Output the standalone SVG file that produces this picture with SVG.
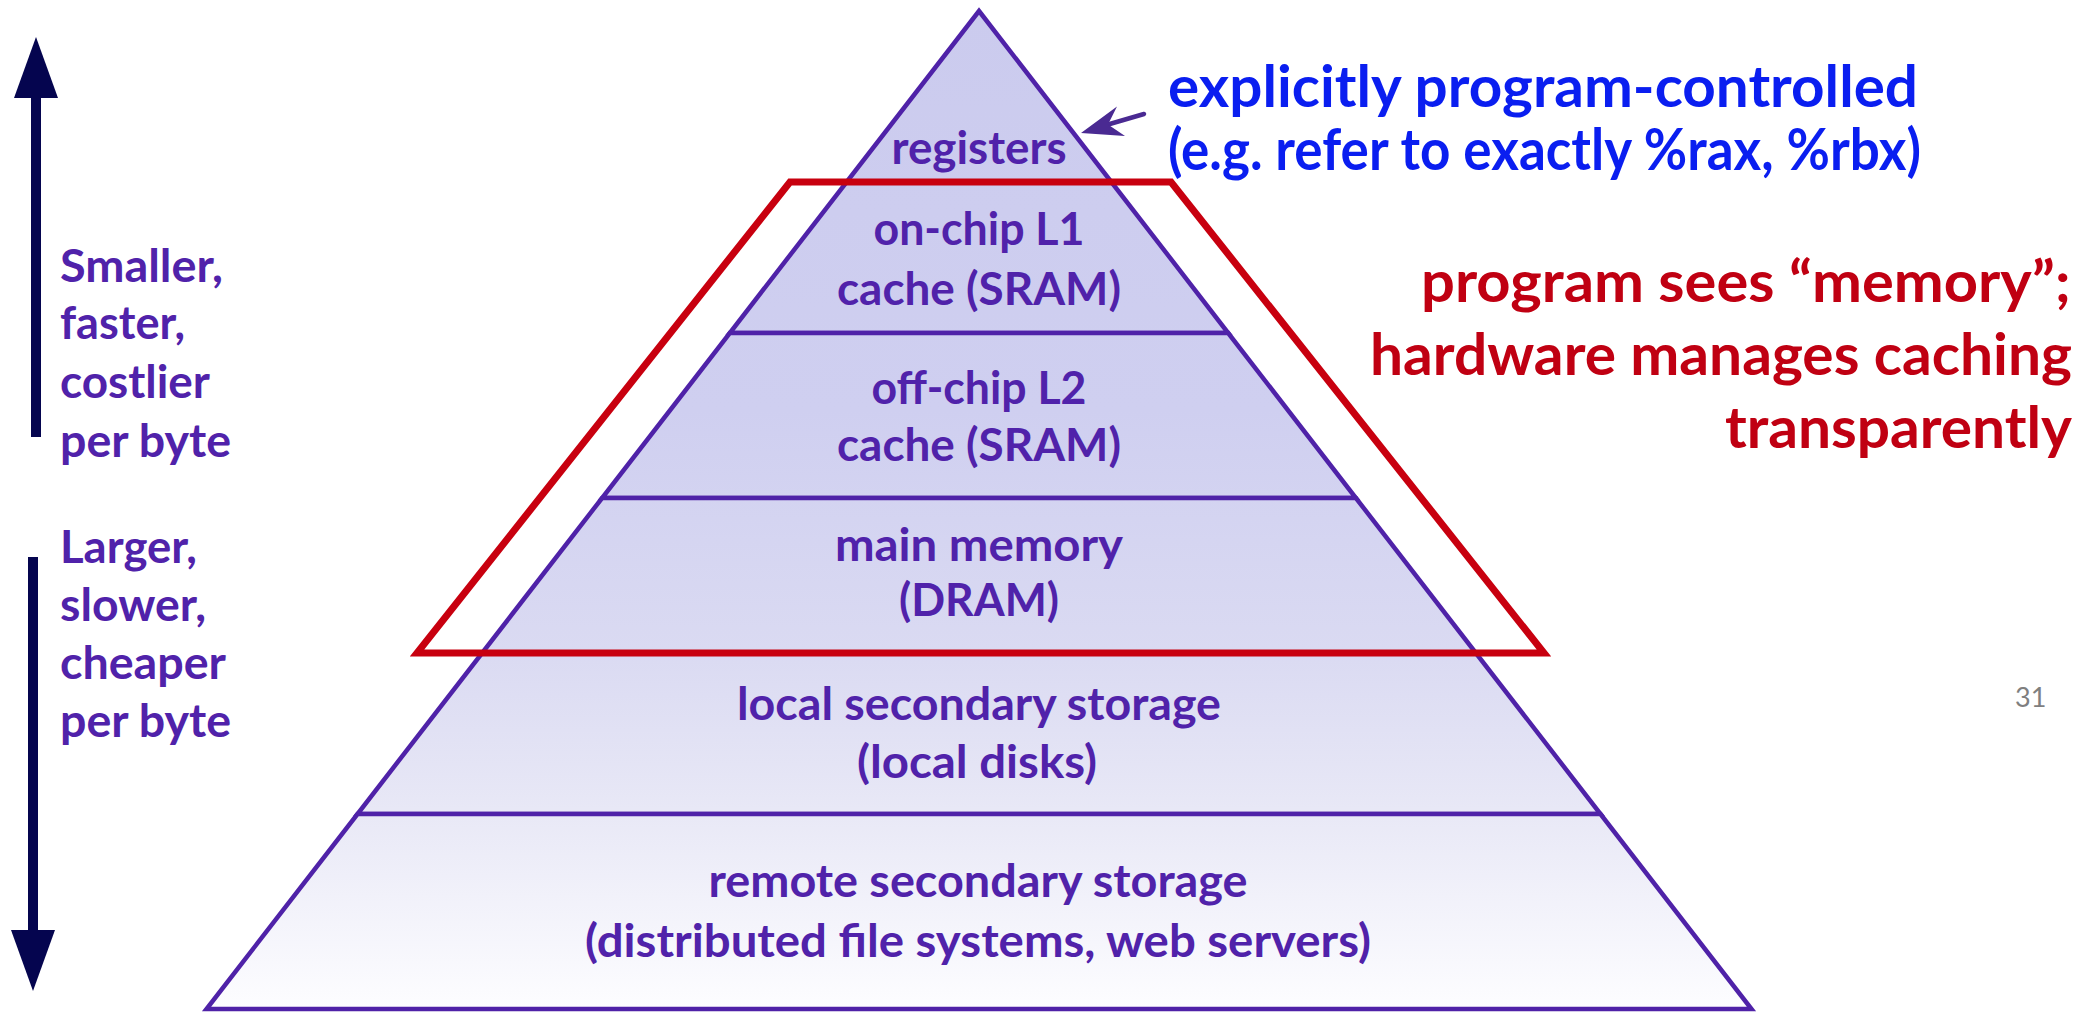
<svg xmlns="http://www.w3.org/2000/svg" width="2095" height="1014" viewBox="0 0 2095 1014">
<defs>
<linearGradient id="fillg" gradientUnits="userSpaceOnUse" x1="0" y1="11" x2="0" y2="1009">
<stop offset="0" stop-color="#cbcbee"/>
<stop offset="0.4" stop-color="#cfcff0"/>
<stop offset="0.64" stop-color="#dadaf2"/>
<stop offset="0.8" stop-color="#e8e8f6"/>
<stop offset="1" stop-color="#fdfdff"/>
</linearGradient>
</defs>
<style>
.layer polygon { fill:url(#fillg); stroke:#4f22a8; stroke-width:4.5; stroke-linejoin:miter; }
.lbl { font-family:Lato, "Open Sans", sans-serif; font-weight:700; font-size:46px; fill:#5022aa; text-anchor:middle; }
.side { font-family:Lato, "Open Sans", sans-serif; font-weight:700; font-size:45px; fill:#5022aa; text-anchor:start; }
.blue { font-family:Lato, "Open Sans", sans-serif; font-weight:700; font-size:57px; fill:#0a1ef0; text-anchor:start; }
.red { font-family:Lato, "Open Sans", sans-serif; font-weight:700; font-size:57px; fill:#c00012; text-anchor:end; }
.pg { font-family:Lato, "Open Sans", sans-serif; font-size:27px; fill:#7f7f7f; }
.navy { fill:#05054f; }
</style>
<rect x="0" y="0" width="2095" height="1014" fill="#ffffff"/>

<g id="layer-registers" class="layer">
<polygon points="979,11 1111.4,182 846.6,182"/>
<text class="lbl" x="979" y="164" textLength="175" lengthAdjust="spacingAndGlyphs">registers</text>
</g>
<g id="layer-l1" class="layer">
<polygon points="846.6,182 1111.4,182 1228.2,333 729.8,333"/>
<text class="lbl" x="979" y="245" textLength="211" lengthAdjust="spacingAndGlyphs">on-chip L1</text>
<text class="lbl" x="979" y="305" textLength="284" lengthAdjust="spacingAndGlyphs">cache (SRAM)</text>
</g>
<g id="layer-l2" class="layer">
<polygon points="729.8,333 1228.2,333 1355.9,498 602.1,498"/>
<text class="lbl" x="979" y="404" textLength="215" lengthAdjust="spacingAndGlyphs">off-chip L2</text>
<text class="lbl" x="979" y="461" textLength="284" lengthAdjust="spacingAndGlyphs">cache (SRAM)</text>
</g>
<g id="layer-main" class="layer">
<polygon points="602.1,498 1355.9,498 1475.9,653 482.1,653"/>
<text class="lbl" x="979" y="561" textLength="288" lengthAdjust="spacingAndGlyphs">main memory</text>
<text class="lbl" x="979" y="616" textLength="160" lengthAdjust="spacingAndGlyphs">(DRAM)</text>
</g>
<g id="layer-local" class="layer">
<polygon points="482.1,653 1475.9,653 1600.5,814 357.5,814"/>
<text class="lbl" x="979" y="720" textLength="484" lengthAdjust="spacingAndGlyphs">local secondary storage</text>
<text class="lbl" x="977" y="778" textLength="240" lengthAdjust="spacingAndGlyphs">(local disks)</text>
</g>
<g id="layer-remote" class="layer">
<polygon points="357.5,814 1600.5,814 1751.5,1009 206.5,1009"/>
<text class="lbl" x="978" y="897" textLength="539" lengthAdjust="spacingAndGlyphs">remote secondary storage</text>
<text class="lbl" x="978" y="957" textLength="786" lengthAdjust="spacingAndGlyphs">(distributed file systems, web servers)</text>
</g>

<g id="cache-region">
<polygon points="790,182 1171,182 1544,653 417,653" fill="none" stroke="#c8000f" stroke-width="7" stroke-linejoin="miter"/>
</g>

<g id="connectors">
<g id="arrow-up" class="navy">
<rect x="31" y="96" width="10" height="341"/>
<polygon points="36,37 58,98 14,98"/>
</g>
<g id="arrow-down" class="navy">
<rect x="28" y="557" width="10" height="375"/>
<polygon points="11,930 55,930 33,991"/>
</g>
<g id="arrow-registers">
<line x1="1144" y1="114" x2="1108" y2="124.5" stroke="#4a2a92" stroke-width="4.5" stroke-linecap="round"/>
<polygon points="1081,133 1117,106.5 1108,124.5 1125,136" fill="#4a2a92"/>
</g>
</g>

<g id="label-smaller">
<text class="side" x="60" y="282" textLength="163" lengthAdjust="spacingAndGlyphs">Smaller,</text>
<text class="side" x="60" y="339" textLength="125" lengthAdjust="spacingAndGlyphs">faster,</text>
<text class="side" x="60" y="398" textLength="150" lengthAdjust="spacingAndGlyphs">costlier</text>
<text class="side" x="60" y="457" textLength="171" lengthAdjust="spacingAndGlyphs">per byte</text>
</g>
<g id="label-larger">
<text class="side" x="60" y="563" textLength="137" lengthAdjust="spacingAndGlyphs">Larger,</text>
<text class="side" x="60" y="621" textLength="146" lengthAdjust="spacingAndGlyphs">slower,</text>
<text class="side" x="60" y="679" textLength="166" lengthAdjust="spacingAndGlyphs">cheaper</text>
<text class="side" x="60" y="737" textLength="171" lengthAdjust="spacingAndGlyphs">per byte</text>
</g>
<g id="label-explicit">
<text class="blue" x="1168" y="107" textLength="750" lengthAdjust="spacingAndGlyphs">explicitly program-controlled</text>
<text class="blue" x="1168" y="170" textLength="753" lengthAdjust="spacingAndGlyphs">(e.g. refer to exactly %rax, %rbx)</text>
</g>
<g id="label-hardware">
<text class="red" x="2071" y="302" textLength="650" lengthAdjust="spacingAndGlyphs">program sees “memory”;</text>
<text class="red" x="2072" y="375" textLength="702" lengthAdjust="spacingAndGlyphs">hardware manages caching</text>
<text class="red" x="2072" y="448" textLength="347" lengthAdjust="spacingAndGlyphs">transparently</text>
</g>
<g id="page-number">
<text class="pg" x="2015" y="707">31</text>
</g>
</svg>
